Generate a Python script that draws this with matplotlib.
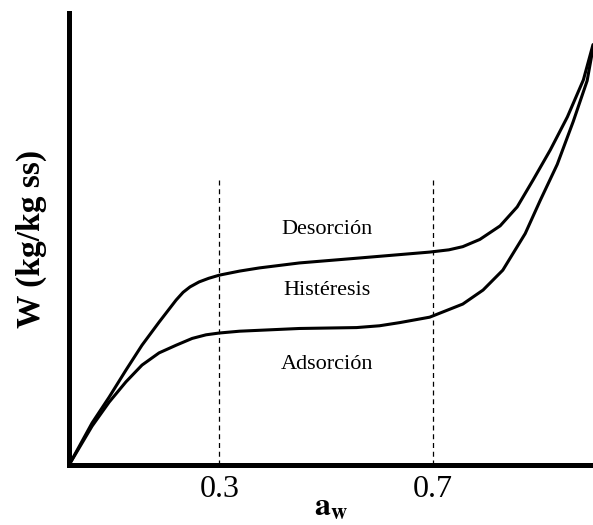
import matplotlib
matplotlib.use("Agg")
import matplotlib.pyplot as plt

plt.rcParams['font.family'] = ['Liberation Serif', 'DejaVu Serif']
plt.rcParams['mathtext.fontset'] = 'stix'

# water activity (x) and moisture content (arbitrary units)
des_x = [0.0183, 0.0615, 0.0934, 0.125, 0.155, 0.187, 0.219, 0.232, 0.245, 0.262,
         0.280, 0.300, 0.338, 0.375, 0.450, 0.563, 0.694, 0.730, 0.756, 0.788,
         0.826, 0.858, 0.888, 0.920, 0.952, 0.982, 1.000]
des_y = [0.0, 0.093, 0.150, 0.210, 0.265, 0.316, 0.365, 0.382, 0.394, 0.405,
         0.413, 0.420, 0.429, 0.436, 0.447, 0.458, 0.471, 0.476, 0.483, 0.499,
         0.529, 0.571, 0.631, 0.697, 0.770, 0.852, 0.930]

ads_x = [0.0183, 0.0615, 0.0934, 0.125, 0.155, 0.187, 0.219, 0.249, 0.275, 0.300,
         0.338, 0.450, 0.557, 0.600, 0.638, 0.694, 0.756, 0.794, 0.831, 0.873,
         0.901, 0.933, 0.963, 0.989, 1.000]
ads_y = [0.0, 0.086, 0.139, 0.184, 0.221, 0.248, 0.265, 0.280, 0.288, 0.292,
         0.296, 0.302, 0.304, 0.308, 0.315, 0.327, 0.356, 0.387, 0.431, 0.512,
         0.585, 0.665, 0.760, 0.850, 0.922]

vlines = [0.3, 0.7]
vline_top = 0.63

fig = plt.figure(figsize=(5.93, 5.25), dpi=100)
ax = fig.add_axes([0.1164, 0.1143, 0.8836, 0.861])

ax.plot(des_x, des_y, color='black', lw=2.2, clip_on=False,
        solid_capstyle='round', solid_joinstyle='round')
ax.plot(ads_x, ads_y, color='black', lw=2.2, clip_on=False,
        solid_capstyle='round', solid_joinstyle='round')

for v in vlines:
    ax.plot([v, v], [0, vline_top], color='black', lw=0.9, ls=(0, (4, 3)))

ax.text(0.501, 0.522, 'Desorción', ha='center', va='center', fontsize=16)
ax.text(0.501, 0.387, 'Histéresis', ha='center', va='center', fontsize=16)
ax.text(0.501, 0.223, 'Adsorción', ha='center', va='center', fontsize=16)

ax.set_xlim(0.0183, 1.0)
ax.set_ylim(0, 1.0)
ax.set_xticks(vlines)
ax.set_xticklabels(['0.3', '0.7'], fontsize=23)
ax.set_yticks([])
ax.tick_params(axis='x', length=0, pad=7)

for s in ['top', 'right']:
    ax.spines[s].set_visible(False)
ax.spines['left'].set_linewidth(3.6)
ax.spines['bottom'].set_linewidth(3.6)

ax.set_xlabel(r'$\mathbf{a}_\mathbf{w}$', fontsize=23, labelpad=-7)
ax.set_ylabel('W (kg/kg ss)', fontsize=24, fontweight='bold', labelpad=16)

fig.savefig('out.png', dpi=100)
